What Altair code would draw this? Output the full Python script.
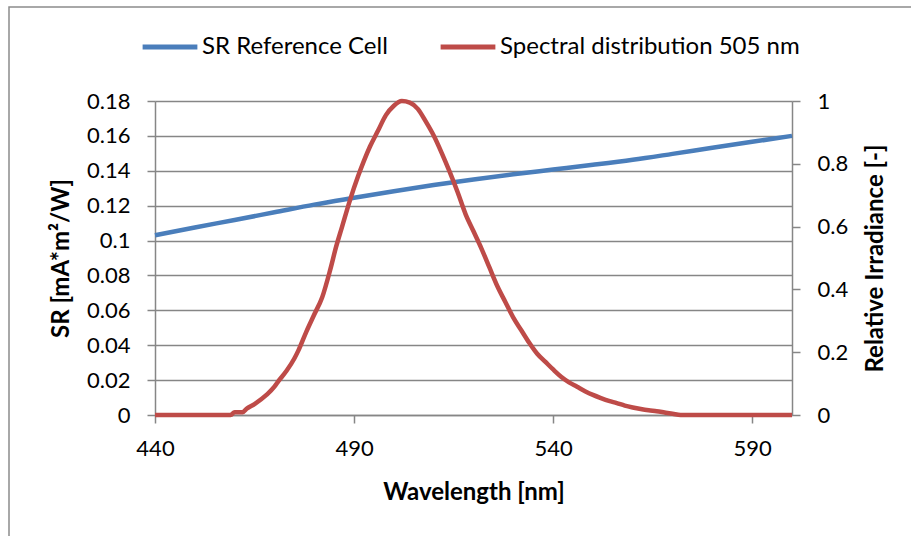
import altair as alt
import pandas as pd

# ---- data ----
sr_wavelength = [440, 450, 460, 470, 480, 490, 500, 510, 520, 530, 540, 550, 560, 570, 580, 590, 600]
sr_values = [0.1030, 0.1075, 0.1118, 0.1162, 0.1206, 0.1245, 0.1283, 0.1318, 0.1350, 0.1380,
             0.1407, 0.1434, 0.1463, 0.1497, 0.1532, 0.1566, 0.1600]

spec_wavelength = [440, 450, 459, 460, 462, 463, 465, 468, 470, 471, 473, 475, 476, 478, 480, 482,
                   484, 485.5, 487, 489, 491, 492.5, 494, 496, 498, 500, 502, 504, 506, 508, 510,
                   512, 514, 516, 518, 520, 522, 524, 526, 528, 530, 532, 534, 536, 538, 540, 542,
                   544, 546, 548, 550, 552, 554, 556, 558, 560, 562, 564, 566, 568, 570, 572, 580,
                   590, 600]
spec_values = [0, 0, 0, 0.009, 0.009, 0.02, 0.035, 0.064, 0.09, 0.108, 0.14, 0.18, 0.205, 0.265,
               0.32, 0.375, 0.462, 0.536, 0.60, 0.685, 0.76, 0.81, 0.855, 0.905, 0.955, 0.985,
               1.0, 0.995, 0.975, 0.935, 0.89, 0.835, 0.775, 0.71, 0.64, 0.585, 0.53, 0.47,
               0.41, 0.36, 0.31, 0.27, 0.23, 0.195, 0.17, 0.145, 0.122, 0.104, 0.09, 0.076,
               0.064, 0.054, 0.045, 0.038, 0.03, 0.024, 0.019, 0.015, 0.012, 0.008, 0.004,
               0, 0, 0, 0]

series_names = ["SR Reference Cell", "Spectral distribution 505 nm"]
series_colors = ["#4A7EBB", "#BE4B48"]

x_ticks = [440, 490, 540, 590]
left_ticks = [0, 0.02, 0.04, 0.06, 0.08, 0.1, 0.12, 0.14, 0.16, 0.18]
right_ticks = [0, 0.2, 0.4, 0.6, 0.8, 1]

sr_df = pd.DataFrame({"wl": sr_wavelength, "v": sr_values, "series": series_names[0]})
spec_df = pd.DataFrame({"wl": spec_wavelength, "v": spec_values, "series": series_names[1]})

FONT = "Lato"
GRID = "#868686"
LABEL_SIZE = 22
TITLE_SIZE = 24

color = alt.Color(
    "series:N",
    scale=alt.Scale(domain=series_names, range=series_colors),
    legend=alt.Legend(
        title=None, orient="none", direction="horizontal",
        legendX=-15, legendY=-84,
        symbolType="stroke", symbolStrokeWidth=5, symbolSize=3000,
        labelFont=FONT, labelFontSize=24, labelColor="#000000", labelLimit=0,
        labelOffset=2, columnPadding=42,
    ),
)

x_enc = alt.X(
    "wl:Q",
    scale=alt.Scale(domain=[440, 600], nice=False, zero=False),
    axis=alt.Axis(
        values=x_ticks, title="Wavelength [nm]", grid=False, labelFlush=False,
        labelFont=FONT, labelFontSize=LABEL_SIZE, labelColor="#000000", labelPadding=15,
        titleFont=FONT, titleFontSize=TITLE_SIZE, titleFontWeight="bold", titleColor="#000000",
        titleY=77, titleBaseline="middle",
        tickSize=8, tickColor=GRID, tickWidth=1.5, domainColor=GRID, domainWidth=1.5,
    ),
)

blue = alt.Chart(sr_df).mark_line(strokeWidth=4.5, interpolate="monotone").encode(
    x=x_enc,
    y=alt.Y(
        "v:Q",
        scale=alt.Scale(domain=[0, 0.18], nice=False),
        axis=alt.Axis(
            orient="left", values=left_ticks, format=".2~f", title="SR [mA*m²/W]",
            grid=True, gridColor=GRID, gridWidth=1.5,
            labelFont=FONT, labelFontSize=LABEL_SIZE, labelColor="#000000", labelPadding=17,
            titleFont=FONT, titleFontSize=TITLE_SIZE, titleFontWeight="bold", titleColor="#000000",
            titleX=-94, titleY=157, titleAngle=270, titleBaseline="middle", titleAlign="center",
            tickSize=8, tickColor=GRID, tickWidth=1.5, domainColor=GRID, domainWidth=1.5,
        ),
    ),
    color=color,
)

red = alt.Chart(spec_df).mark_line(strokeWidth=4.5, interpolate="monotone").encode(
    x=x_enc,
    y=alt.Y(
        "v:Q",
        scale=alt.Scale(domain=[0, 1], nice=False),
        axis=alt.Axis(
            orient="right", values=right_ticks, format=".1~f", title="Relative Irradiance [-]",
            grid=False,
            labelFont=FONT, labelFontSize=LABEL_SIZE, labelColor="#000000", labelPadding=17,
            titleFont=FONT, titleFontSize=TITLE_SIZE, titleFontWeight="bold", titleColor="#000000",
            titleX=83, titleY=157, titleAngle=270, titleBaseline="middle", titleAlign="center",
            tickSize=8, tickColor=GRID, tickWidth=1.5, domainColor=GRID, domainWidth=1.5,
        ),
    ),
    color=color,
)

border = alt.Chart(pd.DataFrame({"a": [0]})).mark_rect(
    filled=False, stroke="#8C8C8C", strokeWidth=1.5
).encode(
    x=alt.value(-146), x2=alt.value(780), y=alt.value(-94), y2=alt.value(450)
)

chart = alt.layer(blue, red, border).resolve_scale(y="independent").properties(
    width=637, height=314,
    autosize=alt.AutoSizeParams(type="none"),
    padding={"left": 155, "top": 101, "right": 119, "bottom": 121},
).configure_view(strokeWidth=0).configure(background="#FFFFFF")

chart.save("out.html", embed_options={"renderer": "svg", "actions": False})
